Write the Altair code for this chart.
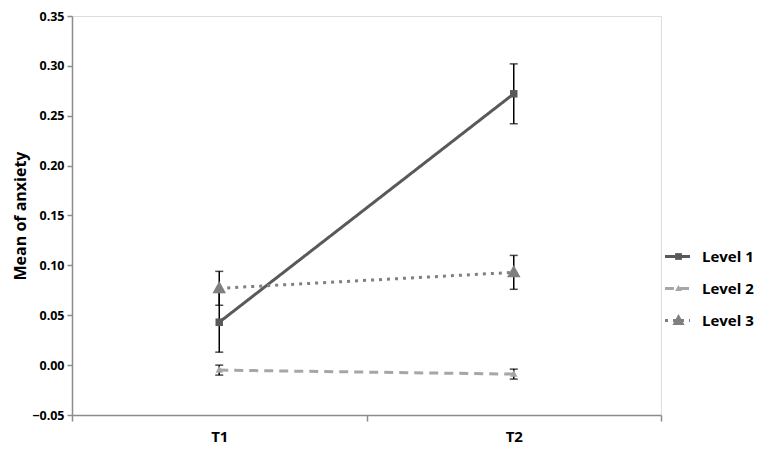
import altair as alt
import pandas as pd

levels = ["Level 1", "Level 2", "Level 3"]
times = ["T1", "T2"]
means = {
    "Level 1": [0.043, 0.272],
    "Level 2": [-0.005, -0.009],
    "Level 3": [0.077, 0.093],
}
errors = {
    "Level 1": [0.030, 0.030],
    "Level 2": [0.005, 0.005],
    "Level 3": [0.017, 0.017],
}
y_ticks = [-0.05, 0.0, 0.05, 0.10, 0.15, 0.20, 0.25, 0.30, 0.35]

rows = []
for lv in levels:
    for i, t in enumerate(times):
        m = means[lv][i]
        e = errors[lv][i]
        rows.append({"Level": lv, "Time": t, "mean": m, "lo": m - e, "hi": m + e})
df = pd.DataFrame(rows)

FONT = "Open Sans"
colors = ["#595959", "#a6a6a6", "#7f7f7f"]
AX = "#8c8c8c"

x = alt.X("Time:N", scale=alt.Scale(domain=times, paddingInner=0, paddingOuter=0),
          axis=alt.Axis(title=None, tickBand="extent", labelAngle=0, labelFont=FONT,
                        labelFontWeight="bold", labelFontSize=15, labelColor="#000",
                        labelPadding=8, domainColor=AX, tickColor=AX,
                        tickSize=6, domainWidth=1.5, tickWidth=1.5, grid=False))
y = alt.Y("mean:Q", scale=alt.Scale(domain=[-0.05, 0.35], nice=False, zero=False),
          axis=alt.Axis(title="Mean of anxiety", values=y_ticks, format=".2f",
                        labelFont=FONT, labelFontWeight="bold", labelFontSize=12.5,
                        labelColor="#000", titleFont=FONT, titleFontWeight="bold",
                        titleFontSize=16, titleColor="#000", titlePadding=3,
                        domainColor=AX, tickColor=AX, tickSize=5,
                        domainWidth=1.5, tickWidth=1.5, grid=False, labelPadding=3))

LEG_X = 598
LEG_Y = 233

line_legend = alt.Legend(title=None, orient="none", legendX=LEG_X, legendY=LEG_Y,
                         labelFont=FONT, labelFontWeight="bold", labelFontSize=15,
                         labelColor="#000", rowPadding=16, symbolType="M-2.5,0H2.5",
                         symbolSize=100, symbolStrokeWidth=3, labelOffset=17)
color = alt.Color("Level:N", scale=alt.Scale(domain=levels, range=colors), legend=line_legend)
dash = alt.StrokeDash("Level:N", scale=alt.Scale(domain=levels, range=[[1, 0], [9, 6], [3, 5]]),
                      legend=line_legend)

lines = alt.Chart(df).mark_line(strokeWidth=3, strokeCap="butt").encode(
    x=x, y=y, color=color, strokeDash=dash
)
errbars = alt.Chart(df).mark_rule(color="#000", strokeWidth=1.5).encode(
    x="Time:N", y="lo:Q", y2="hi:Q"
)
caps_lo = alt.Chart(df).mark_tick(color="#000", size=8, thickness=1.5).encode(
    x="Time:N", y="lo:Q"
)
caps_hi = alt.Chart(df).mark_tick(color="#000", size=8, thickness=1.5).encode(
    x="Time:N", y="hi:Q"
)

shape_paths = [
    "M-0.75,-0.75H0.75V0.75H-0.75Z",
    "M0,-0.8L0.75,0.55H-0.75Z",
    "M0,-1.45L1.35,1H-1.35Z",
]
point_legend = alt.Legend(title=None, orient="none", legendX=LEG_X + 1, legendY=LEG_Y,
                          labelFont=FONT, labelFontWeight="bold", labelFontSize=15,
                          labelColor="rgba(0,0,0,0)", rowPadding=16, symbolSize=81,
                          symbolStrokeWidth=0, labelOffset=17)
points = alt.Chart(df).mark_point(filled=True, opacity=1, size=100).encode(
    x="Time:N", y="mean:Q",
    color=alt.Color("Level:N", scale=alt.Scale(domain=levels, range=colors), legend=point_legend),
    shape=alt.Shape("Level:N", scale=alt.Scale(domain=levels, range=shape_paths), legend=point_legend),
)

chart = alt.layer(lines, errbars, caps_lo, caps_hi, points).resolve_scale(
    color="independent", shape="independent", strokeDash="independent"
).resolve_legend(
    color="independent", shape="independent", strokeDash="independent"
).properties(
    width=589, height=399,
    autosize=alt.AutoSizeParams(type="none"),
    padding={"left": 64, "top": 8, "right": 96, "bottom": 34},
).configure_view(stroke=None).configure(background="white")

chart.save("out.html", embed_options={"renderer": "svg", "actions": False})
